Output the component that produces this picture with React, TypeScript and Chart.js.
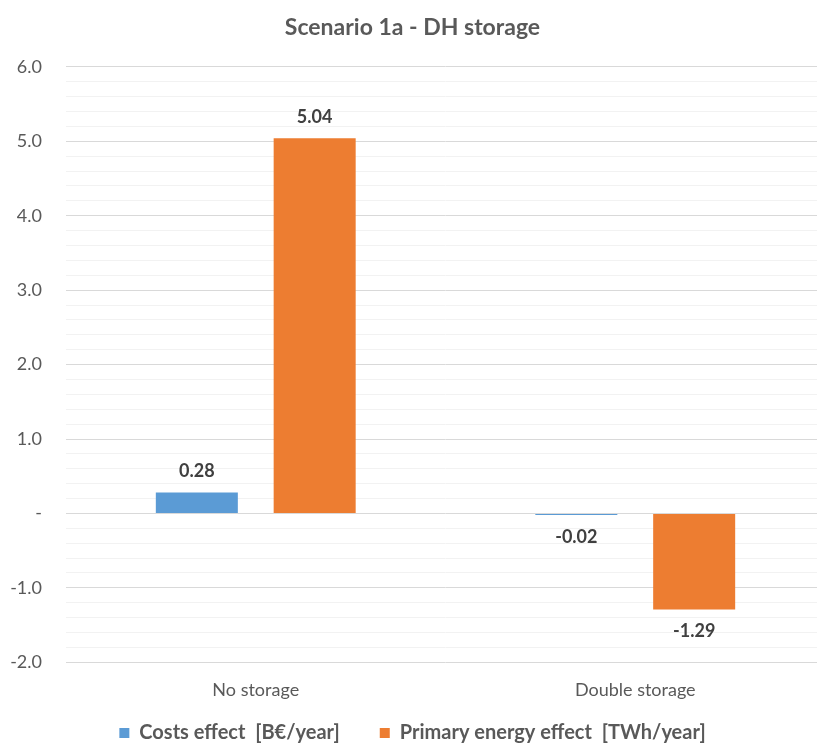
import React, { useEffect, useRef } from "react";
import { Chart, registerables } from "chart.js";

Chart.register(...registerables);

const categories = ["No storage", "Double storage"];
const seriesNames = ["Costs effect  [B€/year]", "Primary energy effect  [TWh/year]"];
const costsEffect = [0.28, -0.02];
const primaryEnergyEffect = [5.04, -1.29];
const seriesColors = ["#5B9BD5", "#ED7D31"];
const yMin = -2;
const yMax = 6;
const minorStep = 0.2;

const FONT = "Lato, 'Noto Sans', sans-serif";
const LEGEND_TOP = 683;

const dataLabelPlugin = {
  id: "dataLabels",
  afterDatasetsDraw(chart: any) {
    const ctx = chart.ctx;
    ctx.save();
    ctx.font = `bold 18px ${FONT}`;
    ctx.fillStyle = "#404040";
    ctx.textAlign = "center";
    ctx.textBaseline = "middle";
    chart.data.datasets.forEach((ds: any, i: number) => {
      const meta = chart.getDatasetMeta(i);
      meta.data.forEach((el: any, j: number) => {
        const v = ds.data[j] as number;
        const y = v >= 0 ? el.y - 21 : el.y + 22;
        ctx.fillText(v.toFixed(2), el.x, y);
      });
    });
    ctx.restore();
  },
};

const legendShiftPlugin = {
  id: "legendShift",
  afterLayout(chart: any) {
    const l = chart.legend;
    if (!l) return;
    const h = l.height;
    l.top = LEGEND_TOP;
    l.bottom = LEGEND_TOP + h;
  },
};

export default function App() {
  const ref = useRef<HTMLCanvasElement>(null);
  useEffect(() => {
    if (!ref.current) return;
    const chart = new Chart(ref.current, {
      type: "bar",
      data: {
        labels: categories,
        datasets: [
          {
            label: seriesNames[0],
            data: costsEffect,
            backgroundColor: seriesColors[0],
            categoryPercentage: 0.621,
            barPercentage: 0.696,
          },
          {
            label: seriesNames[1],
            data: primaryEnergyEffect,
            backgroundColor: seriesColors[1],
            categoryPercentage: 0.621,
            barPercentage: 0.696,
          },
        ],
      },
      options: {
        responsive: false,
        animation: false,
        layout: { padding: { left: 0, right: 15, top: 0, bottom: 11 } },
        plugins: {
          title: {
            display: true,
            text: "Scenario 1a - DH storage",
            color: "#595959",
            font: { family: FONT, size: 23, weight: "bold" },
            padding: { top: 14, bottom: 25.3 },
          },
          legend: {
            display: true,
            position: "bottom",
            labels: {
              boxWidth: 10,
              boxHeight: 10,
              padding: 40,
              color: "#595959",
              font: { family: FONT, size: 20, weight: "bold", lineHeight: 1 },
            },
          },
          tooltip: { enabled: false },
        },
        scales: {
          x: {
            grid: { display: false, drawTicks: false, tickLength: 0 },
            border: { display: false },
            ticks: {
              color: "#595959",
              font: { family: FONT, size: 18 },
              padding: 17,
            },
            afterFit: (scale: any) => {
              scale.height = 36.7;
            },
          },
          y: {
            min: yMin,
            max: yMax,
            grid: {
              drawTicks: false,
              tickLength: 0,
              color: (c: any) => {
                const v = c.tick ? c.tick.value : 0;
                return Math.abs(v - Math.round(v)) < 1e-6 ? "#D9D9D9" : "#F2F2F2";
              },
            },
            border: { display: false },
            afterBuildTicks: (scale: any) => {
              const ticks: { value: number }[] = [];
              const n = Math.round((yMax - yMin) / minorStep);
              for (let i = 0; i <= n; i++) {
                ticks.push({ value: Math.round((yMin + i * minorStep) * 10) / 10 });
              }
              scale.ticks = ticks;
            },
            afterFit: (scale: any) => {
              scale.width = 66;
            },
            ticks: {
              color: "#595959",
              font: { family: FONT, size: 18 },
              padding: 24,
              autoSkip: false,
              callback: (value: any) => {
                const v = Number(value);
                if (Math.abs(v - Math.round(v)) > 1e-6) return "";
                if (Math.round(v) === 0) return "-";
                return v.toFixed(1);
              },
            },
          },
        },
      },
      plugins: [dataLabelPlugin, legendShiftPlugin],
    });
    return () => chart.destroy();
  }, []);
  return (
    <div
      style={{
        position: "fixed",
        left: 0,
        top: 0,
        width: 817,
        height: 744,
        overflow: "hidden",
        background: "#fff",
      }}
    >
      <canvas ref={ref} width={840} height={780} />
    </div>
  );
}
